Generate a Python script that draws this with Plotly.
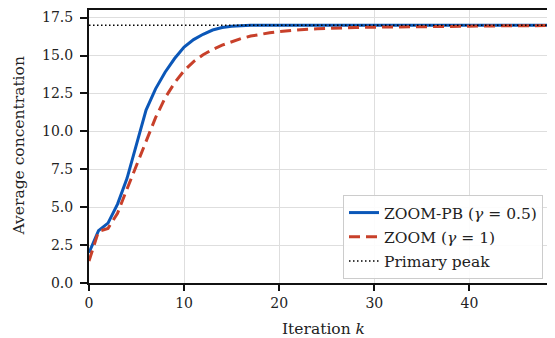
import plotly.graph_objects as go

iterations = list(range(50))
zoom_pb = [2.0, 3.45, 3.95, 5.2, 6.9, 9.2, 11.4, 12.8, 13.9, 14.8,
           15.55, 16.05, 16.4, 16.68, 16.84, 16.93, 16.97, 16.99, 17.0, 17.0] + [17.0] * 30
zoom = [1.45, 3.4, 3.6, 4.6, 6.2, 7.8, 9.3, 10.9, 12.2, 13.2,
        14.0, 14.6, 15.05, 15.4, 15.68, 15.92, 16.12, 16.28, 16.41, 16.5,
        16.58, 16.64, 16.69, 16.73, 16.76, 16.79, 16.81, 16.83, 16.85, 16.86,
        16.87, 16.88, 16.89, 16.9, 16.91, 16.92, 16.925, 16.93, 16.935, 16.94,
        16.945, 16.95, 16.955, 16.96, 16.96, 16.965, 16.97, 16.97, 16.975, 16.975]
peak_x = [0, 49]
peak_y = [17.0, 17.0]

x_ticks = [0, 10, 20, 30, 40]
y_ticks = [0, 2.5, 5, 7.5, 10, 12.5, 15, 17.5]
y_tick_labels = ["0.0", "2.5", "5.0", "7.5", "10.0", "12.5", "15.0", "17.5"]

font = "DejaVu Serif"
# the page body adds an 8px offset; figure coordinates compensate for it
OFF = 8
W, H = 555, 338
L = 89 - OFF
T = 10 - OFF
PLOT_RIGHT = 555 - OFF
PLOT_BOTTOM = 283 - OFF
R = W - PLOT_RIGHT
B = H - PLOT_BOTTOM
pw = W - L - R
ph = H - T - B

fig = go.Figure()
fig.add_trace(go.Scatter(x=iterations, y=zoom_pb, mode="lines",
                         name="ZOOM-PB (<i>γ</i> = 0.5)", legendgroup="a",
                         line=dict(color="#0b57b8", width=3)))
fig.add_trace(go.Scatter(x=iterations, y=zoom, mode="lines",
                         name="ZOOM (<i>γ</i> = 1)", legendgroup="b",
                         line=dict(color="#c8402a", width=3, dash="11px,6px")))
fig.add_trace(go.Scatter(x=peak_x, y=peak_y, mode="lines",
                         name="Primary peak", legendgroup="c",
                         line=dict(color="black", width=1.5, dash="1.5px,2.5px")))

fig.update_layout(
    width=W, height=H,
    margin=dict(l=L, r=R, t=T, b=B),
    paper_bgcolor="white", plot_bgcolor="white",
    font=dict(family=font, size=14, color="#222"),
    legend=dict(x=(343 - OFF - L) / pw, y=(PLOT_BOTTOM - (195 - OFF)) / ph,
                xanchor="left", yanchor="top",
                bgcolor="rgba(255,255,255,0.9)", bordercolor="#cccccc", borderwidth=1,
                font=dict(family=font, size=15.5), tracegroupgap=1),
    xaxis=dict(range=[0, 49], tickvals=x_ticks, showgrid=True, gridcolor="#dedede", gridwidth=1,
               showline=True, linecolor="#111", linewidth=2, mirror=True,
               ticks="outside", ticklen=6, tickwidth=1.5, tickcolor="#111",
               zeroline=False, automargin=False),
    yaxis=dict(range=[0, 18], tickvals=y_ticks, ticktext=y_tick_labels,
               showgrid=True, gridcolor="#dedede", gridwidth=1,
               showline=True, linecolor="#111", linewidth=2,
               ticks="outside", ticklen=7, tickwidth=1.5, tickcolor="#111",
               ticklabelstandoff=4,
               zeroline=False, automargin=False),
    annotations=[
        dict(text="Iteration <i>k</i>", xref="paper", yref="paper",
             x=(323 - OFF - L) / pw, y=-((329 - OFF) - PLOT_BOTTOM) / ph,
             xanchor="center", yanchor="middle",
             showarrow=False, font=dict(family=font, size=15.5, color="#222")),
        dict(text="Average concentration", xref="paper", yref="paper",
             x=((18 - OFF) - L) / pw, y=0.5, xanchor="center", yanchor="middle", textangle=-90,
             showarrow=False, font=dict(family=font, size=15.5, color="#222")),
    ],
)

fig.write_html("out.html")
